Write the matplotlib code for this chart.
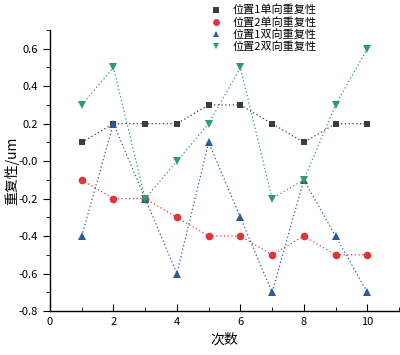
import numpy as np
import matplotlib
matplotlib.use("Agg")
import matplotlib.pyplot as plt
from matplotlib.ticker import MultipleLocator

plt.rcParams['font.family'] = ['Noto Sans CJK SC', 'DejaVu Sans']
plt.rcParams['axes.unicode_minus'] = False

# data
runs = [1, 2, 3, 4, 5, 6, 7, 8, 9, 10]
p1_uni = [0.1, 0.2, 0.2, 0.2, 0.3, 0.3, 0.2, 0.1, 0.2, 0.2]
p2_uni = [-0.1, -0.2, -0.2, -0.3, -0.4, -0.4, -0.5, -0.4, -0.5, -0.5]
p1_bi = [-0.4, 0.2, -0.2, -0.6, 0.1, -0.3, -0.7, -0.1, -0.4, -0.7]
p2_bi = [0.3, 0.5, -0.2, 0.0, 0.2, 0.5, -0.2, -0.1, 0.3, 0.6]
labels = ['位置1单向重复性', '位置2单向重复性', '位置1双向重复性', '位置2双向重复性']

series = [
    (p1_uni, 's', 5, '#3d3d3d'),
    (p2_uni, 'o', 5.5, '#e0363b'),
    (p1_bi, '^', 5.5, '#2a5d95'),
    (p2_bi, 'v', 5.5, '#2f9c6c'),
]

fig = plt.figure(figsize=(4, 3.55), dpi=100)
ax = fig.add_axes([0.125, 0.124, 0.8725, 0.7915])

handles = []
for (vals, mk, ms, col), lab in zip(series, labels):
    h, = ax.plot(runs, vals, linestyle=(0, (1, 2)), linewidth=0.9, color=col,
                 marker=mk, markersize=ms, markeredgewidth=0, label=lab)
    handles.append(h)

ax.set_xlim(0, 11)
ax.set_ylim(-0.8, 0.7)
ax.xaxis.set_major_locator(MultipleLocator(2))
ax.xaxis.set_minor_locator(MultipleLocator(1))
ax.yaxis.set_minor_locator(MultipleLocator(0.1))
ax.set_yticks(np.arange(-0.8, 0.61, 0.2))
ax.yaxis.set_major_formatter(matplotlib.ticker.FuncFormatter(lambda v, p: '%.1f' % v))

ax.spines['top'].set_visible(False)
ax.spines['right'].set_visible(False)
for s in ['left', 'bottom']:
    ax.spines[s].set_linewidth(1.0)

ax.tick_params(axis='y', which='major', direction='out', length=5, labelsize=8)
ax.tick_params(axis='y', which='minor', direction='out', length=3)
ax.tick_params(axis='x', which='major', direction='in', length=5, labelsize=8, pad=4)
ax.tick_params(axis='x', which='minor', direction='in', length=3)

ax.set_xlabel('次数', fontsize=10, labelpad=4)
ax.set_ylabel('重复性/um', fontsize=10, labelpad=0)

fig.legend(handles=handles, labels=labels, loc='upper left',
           bbox_to_anchor=(0.50, 1.015), frameon=False, fontsize=8,
           handlelength=1.0, handletextpad=1.0, labelspacing=0.12,
           markerscale=0.9)
for h in fig.legends[0].legend_handles:
    h.set_linestyle('None')

fig.savefig('out.png', dpi=100)
